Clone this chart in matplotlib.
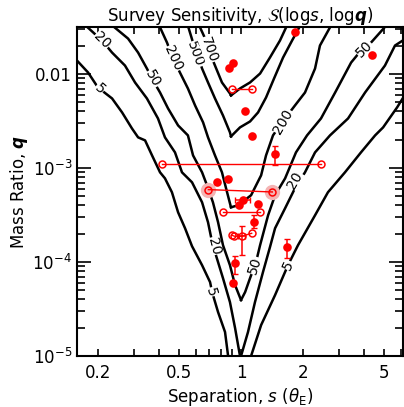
import numpy as np
import matplotlib.pyplot as plt
from matplotlib.ticker import FixedLocator, NullFormatter

plt.rcParams['font.family'] = 'DejaVu Sans'
plt.rcParams['mathtext.fontset'] = 'dejavusans'

ls5_l = [-0.82, -0.746, -0.698, -0.629, -0.580, -0.532, -0.502, -0.468, -0.434, -0.395, -0.371, -0.337,
         -0.307, -0.273, -0.239, -0.190, -0.151, -0.141, -0.112, -0.078, -0.063]
lq5_l = [-1.81, -1.984, -2.143, -2.260, -2.409, -2.579, -2.674, -2.706, -2.866, -3.046, -3.110, -3.258,
         -3.471, -3.641, -3.832, -4.034, -4.214, -4.320, -4.533, -4.745, -5.0]
ls5_r = [0.049, 0.098, 0.166, 0.229, 0.278, 0.361, 0.424, 0.507, 0.585, 0.654, 0.693, 0.761, 0.82]
lq5_r = [-5.0, -4.671, -4.352, -4.034, -3.821, -3.503, -3.258, -3.046, -2.834, -2.653, -2.568, -2.356, -2.15]

ls20_l = [-0.76, -0.678, -0.629, -0.566, -0.517, -0.459, -0.405, -0.371, -0.322, -0.288, -0.239, -0.190,
          -0.161, -0.141, -0.127, -0.088, -0.054, -0.029, -0.005]
lq20_l = [-1.48, -1.644, -1.772, -1.910, -2.090, -2.260, -2.473, -2.674, -2.834, -3.046, -3.152, -3.365,
          -3.577, -3.789, -3.895, -4.172, -4.427, -4.703, -5.0]
ls20_r = [0.0, 0.034, 0.068, 0.107, 0.141, 0.166, 0.215, 0.263, 0.312, 0.361, 0.434, 0.522, 0.605, 0.702,
          0.751, 0.82]
lq20_r = [-5.0, -4.745, -4.427, -4.108, -3.843, -3.641, -3.428, -3.216, -3.046, -2.834, -2.653, -2.473,
          -2.197, -1.910, -1.697, -1.60]

ls50_l = [-0.63, -0.551, -0.502, -0.459, -0.429, -0.395, -0.356, -0.307, -0.259, -0.234, -0.190, -0.166,
          -0.137, -0.112, -0.088, -0.054, -0.029, 0.0]
lq50_l = [-1.48, -1.623, -1.772, -1.942, -2.069, -2.197, -2.366, -2.547, -2.653, -2.866, -3.046, -3.184,
          -3.365, -3.577, -3.821, -4.034, -4.246, -4.405]
ls50_r = [0.0, 0.020, 0.044, 0.073, 0.093, 0.132, 0.166, 0.215, 0.268, 0.322, 0.390, 0.459, 0.537,
          0.605, 0.634, 0.71]
lq50_r = [-4.405, -4.320, -4.172, -4.002, -3.821, -3.503, -3.290, -3.110, -2.834, -2.653, -2.473, -2.197,
          -1.878, -1.697, -1.666, -1.48]

ls200_l = [-0.40, -0.361, -0.332, -0.298, -0.259, -0.224, -0.185, -0.161, -0.127, -0.093, -0.068, -0.049]
lq200_l = [-1.48, -1.666, -1.835, -1.984, -2.154, -2.335, -2.515, -2.674, -2.866, -3.046, -3.258, -3.418]
ls200_r = [-0.049, -0.015, 0.049, 0.098, 0.122, 0.156, 0.2, 0.263, 0.312, 0.361, 0.385, 0.44]
lq200_r = [-3.418, -3.397, -3.290, -3.078, -2.866, -2.653, -2.515, -2.335, -2.197, -1.942, -1.697, -1.48]

ls500_l = [-0.26, -0.234, -0.215, -0.190, -0.161, -0.127, -0.088, -0.054, -0.049]
lq500_l = [-1.48, -1.666, -1.782, -1.942, -2.090, -2.260, -2.441, -2.621, -2.664]
ls500_r = [-0.049, -0.005, 0.044, 0.083, 0.122, 0.161, 0.205, 0.249, 0.29]
lq500_r = [-2.664, -2.568, -2.505, -2.409, -2.250, -2.048, -1.825, -1.644, -1.48]

ls700_l = [-0.205, -0.166, -0.151, -0.127, -0.093, -0.054, -0.049]
lq700_l = [-1.48, -1.666, -1.782, -1.910, -2.090, -2.207, -2.228]
ls700_r = [-0.049, -0.005, 0.044, 0.093, 0.141, 0.190, 0.225]
lq700_r = [-2.228, -2.154, -2.090, -1.995, -1.825, -1.644, -1.48]

# contour labels: text, log s, log q, angle
lab_text = ['20', '5', '50', '200', '500', '700', '200', '50', '20', '20', '5', '50', '5']
lab_ls = [-0.678, -0.688, -0.429, -0.332, -0.222, -0.158, 0.205, 0.60, 0.263, -0.132, -0.146, 0.068, 0.229]
lab_lq = [-1.644, -2.154, -2.048, -1.835, -1.79, -1.74, -2.505, -1.73, -3.13, -3.83, -4.32, -4.04, -4.034]
lab_ang = [-45, -42, -60, -65, -70, -70, 60, 45, 60, -75, -75, 72, 65]

# planets with a single solution
sol_s = [1.83, 0.874, 0.914, 1.046, 1.13, 4.36, 1.465, 0.761, 0.861, 1.017, 0.978, 1.21, 1.157, 1.68,
         0.93, 0.911]
sol_q = [0.0282, 0.01172, 0.01324, 0.0040, 0.00217, 0.0161, 0.0014, 0.00071, 0.000759, 0.000461,
         0.000401, 0.000411, 0.000265, 0.000143, 9.65e-5, 5.92e-5]

# error bars
eb_s = [1.465, 1.017, 1.157, 1.68, 0.93]
eb_q = [0.0014, 0.000461, 0.000265, 0.000143, 9.65e-5]
eb_s_lo = [1.43, 0.93, 1.157, 1.68, 0.93]
eb_s_hi = [1.50, 1.10, 1.157, 1.68, 0.93]
eb_q_lo = [0.001067, 0.000461, 0.000229, 0.000111, 7.43e-5]
eb_q_hi = [0.00171, 0.000461, 0.000314, 0.000175, 0.000115]

# degenerate (close/wide) solutions, joined by lines
deg_a_s = [0.907, 1.135]
deg_a_q = [0.00697, 0.00697]
deg_b_s = [0.413, 2.45]
deg_b_q = [0.001094, 0.001094]
deg_c_s = [0.693, 1.421]
deg_c_q = [0.000589, 0.000556]
deg_d_s = [0.82, 1.238]
deg_d_q = [0.00034, 0.00034]
deg_e_s = [0.901, 0.929, 1.006, 1.127]
deg_e_q = [0.000193, 0.000188, 0.000188, 0.000202]
deg_e_err_s = [0.964, 1.046]
deg_e_err_q = [0.000118, 0.00024]

red = '#ff0000'

fig = plt.figure(figsize=(4.04, 4.07), dpi=100)
ax = fig.add_axes([77 / 404, 51 / 407, 326 / 404, 329 / 407])
ax.set_xscale('log')
ax.set_yscale('log')

branches = [(ls5_l, lq5_l), (ls5_r, lq5_r), (ls20_l, lq20_l), (ls20_r, lq20_r),
            (ls50_l, lq50_l), (ls50_r, lq50_r), (ls200_l, lq200_l), (ls200_r, lq200_r),
            (ls500_l, lq500_l), (ls500_r, lq500_r), (ls700_l, lq700_l), (ls700_r, lq700_r)]
for ls, lq in branches:
    ax.plot(10 ** np.array(ls), 10 ** np.array(lq), color='black', lw=1.8, zorder=2,
            solid_joinstyle='round')

for t, ls, lq, a in zip(lab_text, lab_ls, lab_lq, lab_ang):
    ax.text(10 ** ls, 10 ** lq, t, rotation=a, ha='center', va='center', fontsize=10,
            rotation_mode='anchor', zorder=3,
            bbox=dict(boxstyle='square,pad=0.02', fc='white', ec='none'))

# halos around the highlighted pair
ax.plot(deg_c_s, deg_c_q, 'o', ms=11, color='#f4b4b4', mec='none', zorder=4)

for s, q in [(deg_a_s, deg_a_q), (deg_b_s, deg_b_q), (deg_c_s, deg_c_q), (deg_d_s, deg_d_q),
             (deg_e_s, deg_e_q)]:
    ax.plot(s, q, '-', color=red, lw=1.0, zorder=5)
    ax.plot(s, q, 'o', ms=5, mfc='none', mec=red, mew=1.1, zorder=6)

ax.errorbar([deg_e_s[2]], [deg_e_q[2]],
            xerr=[[deg_e_s[2] - deg_e_err_s[0]], [deg_e_err_s[1] - deg_e_s[2]]],
            yerr=[[deg_e_q[2] - deg_e_err_q[0]], [deg_e_err_q[1] - deg_e_q[2]]],
            fmt='none', ecolor=red, elinewidth=1.1, capsize=2.2, zorder=6)

eb_s = np.array(eb_s)
eb_q = np.array(eb_q)
ax.errorbar(eb_s, eb_q,
            xerr=[eb_s - np.array(eb_s_lo), np.array(eb_s_hi) - eb_s],
            yerr=[eb_q - np.array(eb_q_lo), np.array(eb_q_hi) - eb_q],
            fmt='none', ecolor=red, elinewidth=1.1, capsize=2.2, zorder=7)
ax.plot(sol_s, sol_q, 'o', ms=6.2, color=red, mec='none', zorder=8)

ax.set_xlim(10 ** -0.80, 10 ** 0.79)
ax.set_ylim(1e-5, 10 ** -1.5)

ax.xaxis.set_major_locator(FixedLocator([0.2, 0.5, 1, 2, 5]))
ax.set_xticklabels(['0.2', '0.5', '1', '2', '5'])
ax.xaxis.set_minor_locator(FixedLocator([0.3, 0.4, 0.6, 0.7, 0.8, 0.9, 3, 4, 6]))
ax.xaxis.set_minor_formatter(NullFormatter())
ax.yaxis.set_major_locator(FixedLocator([1e-5, 1e-4, 1e-3, 1e-2]))
ax.set_yticklabels(['$10^{-5}$', '$10^{-4}$', '$10^{-3}$', '0.01'])
ax.yaxis.set_minor_locator(FixedLocator([k * 10.0 ** e for e in range(-5, -1) for k in range(2, 10)]))
ax.yaxis.set_minor_formatter(NullFormatter())

ax.tick_params(which='both', direction='in', top=True, right=True, labelsize=12, width=1.2)
ax.tick_params(axis='y', which='major', length=10)
ax.tick_params(axis='y', which='minor', length=6)
ax.tick_params(axis='x', which='both', length=5)
ax.tick_params(axis='x', pad=6)
for sp in ax.spines.values():
    sp.set_linewidth(1.5)

ax.set_title(r'Survey Sensitivity, $\mathcal{S}$(log$s$, log$\boldsymbol{q}$)', fontsize=12, pad=4)
ax.set_xlabel(r'Separation, $s$ ($\theta_{\mathrm{E}}$)', fontsize=12, labelpad=3)
ax.set_ylabel(r'Mass Ratio, $\boldsymbol{q}$', fontsize=12, labelpad=2)

fig.savefig('out.png', dpi=100)
